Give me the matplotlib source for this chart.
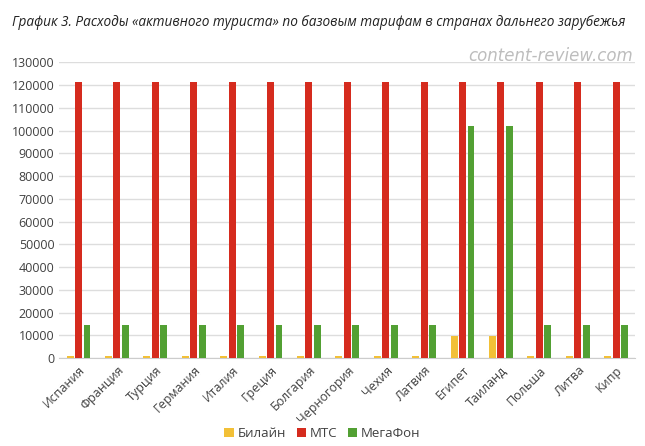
import matplotlib.pyplot as plt
import numpy as np

plt.rcParams['font.family'] = ['Open Sans', 'DejaVu Sans']

countries = ['Испания', 'Франция', 'Турция', 'Германия', 'Италия', 'Греция',
             'Болгария', 'Черногория', 'Чехия', 'Латвия', 'Египет', 'Таиланд',
             'Польша', 'Литва', 'Кипр']
beeline = [1000, 1000, 1000, 1000, 1000, 1000, 1000, 1000, 1000, 1000,
           9800, 9800, 1000, 1000, 1000]
mts = [121500] * 15
megafon = [14600, 14600, 14600, 14600, 14600, 14600, 14600, 14600, 14600, 14600,
           102000, 102000, 14600, 14600, 14600]

fig = plt.figure(figsize=(6.45, 4.46), dpi=100)
ax = fig.add_axes([0.092, 0.197, 0.893, 0.663])

x = np.arange(len(countries))
w = 0.18
ax.bar(x - 0.22, beeline, w, color='#F2C037', label='Билайн', zorder=3)
ax.bar(x, mts, w, color='#D52B1E', label='МТС', zorder=3)
ax.bar(x + 0.22, megafon, w, color='#52A033', label='МегаФон', zorder=3)

ax.set_xlim(-0.5, len(countries) - 0.5)
ax.set_ylim(0, 130000)
ax.set_yticks(range(0, 130001, 10000))
ax.grid(axis='y', color='#DDDDDD', linewidth=1, zorder=0)
for s in ['top', 'right', 'left']:
    ax.spines[s].set_visible(False)
ax.spines['bottom'].set_color('#CCCCCC')
ax.tick_params(axis='both', length=0, labelsize=9, colors='#404040')
ax.tick_params(axis='x', pad=4)
ax.set_xticks(x)
ax.set_xticklabels(countries, rotation=45, ha='right', rotation_mode='anchor')

fig.text(0.018, 0.95, 'График 3. Расходы «активного туриста» по базовым тарифам в странах дальнего зарубежья',
         fontsize=9.85, style='italic', color='#222222', va='center')
fig.text(0.982, 0.875, 'content-review.com', fontsize=12, style='italic',
         color='#BDBDBD', ha='right', va='center', family='DejaVu Sans')

fig.legend(loc='center', bbox_to_anchor=(0.5, 0.028), ncol=3, frameon=False,
           fontsize=9.5, handlelength=0.7, handleheight=0.7, handletextpad=0.3,
           columnspacing=0.8, labelcolor='#404040')

fig.savefig('out.png', dpi=100)
